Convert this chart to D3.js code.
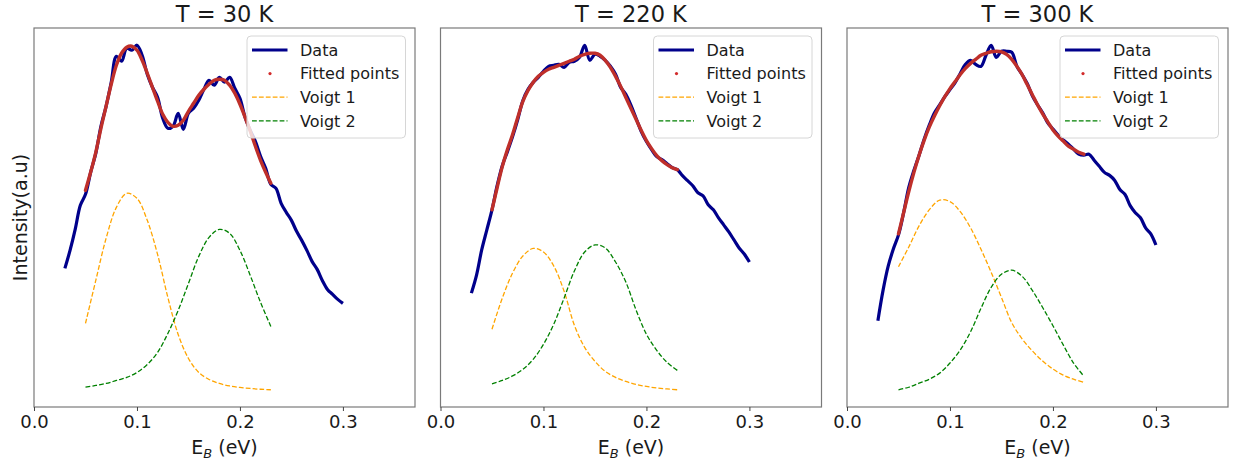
<!DOCTYPE html>
<html>
<head>
<meta charset="utf-8">
<script src="https://cdn.jsdelivr.net/npm/d3@7"></script>
<style>
  body { margin: 0; background: #fff; }
  text { font-family: "DejaVu Sans", sans-serif; fill: #1a1a1a; }
</style>
</head>
<body>
<svg id="chart" width="1233" height="463"></svg>
<script>
// energies (eV)
const dataE = [0.030,0.035,0.040,0.045,0.050,0.055,0.060,0.065,0.070,0.075,0.080,0.085,0.090,0.095,0.100,0.105,0.110,0.115,0.120,0.125,0.130,0.135,0.140,0.145,0.150,0.155,0.160,0.165,0.170,0.175,0.180,0.185,0.190,0.195,0.200,0.205,0.210,0.215,0.220,0.225,0.230,0.235,0.240,0.245,0.250,0.255,0.260,0.265,0.270,0.275,0.280,0.285,0.290,0.295,0.300]
const fitE = [0.050,0.055,0.060,0.065,0.070,0.075,0.080,0.085,0.090,0.095,0.100,0.105,0.110,0.115,0.120,0.125,0.130,0.135,0.140,0.145,0.150,0.155,0.160,0.165,0.170,0.175,0.180,0.185,0.190,0.195,0.200,0.205,0.210,0.215,0.220,0.225,0.230]
const voigtE = [0.05,0.06,0.07,0.08,0.09,0.10,0.11,0.12,0.13,0.14,0.15,0.16,0.17,0.18,0.19,0.20,0.21,0.22,0.23]

const titles = ["T = 30 K", "T = 220 K", "T = 300 K"]
const xTicks = [0.0, 0.1, 0.2, 0.3]
const legendLabels = ["Data", "Fitted points", "Voigt 1", "Voigt 2"]

// T = 30 K
const data30 = [139,157,178,202,213,235,254,281,301,325,351,346,359,357,362,352,333,320,310,289,279,281,294,278,294,299,307,318,327,322,330,325,330,319,309,290,277,266,251,239,223,219,204,195,187,176,167,157,146,138,127,118,113,108,104]
const fit30 = [217,235,255,279,301,323,342,354,360,361,357,347,334,320,306,293,285,281,282,287,296,304,312,318,323,327,328,327,322,314,303,290,276,261,247,235,224]
const voigt1_30 = [84,127,169,200,214,209,187,153,110,73,49,35,28,24,21.5,20,19,18.2,17.7]
const voigt2_30 = [20.3,22,24,27,30,35,43,55,74,97,124,151,170,178,174,157,132,105,81]

// T = 220 K
const data220 = [114,132,157,177,197,221,241,255,270,287,306,317,324,329,335,340,341,342,339,344,345,349,361,346,352,350,346,340,332,319,312,301,288,275,265,257,250,247,243,239,237,231,226,221,214,211,202,197,189,182,175,167,159,153,145]
const fit220 = [197,219,240,257,272,289,305,316,324,330,334,337,339,341,343,345,347,350,352,353,353,351,346,339,330,320,309,298,287,276,266,258,251,246,242,239,237]
const voigt1_220 = [78,109,134,151,158.5,155,141,116,82,60,46,36,30,26,23,21,19.5,18.5,17.7]
const voigt2_220 = [23.5,27,31.5,38,48,63,83,109,136,155,162,159,145,125,97,73,57,45,37]

// T = 300 K
const data300 = [87,117,141,158,172,194,219,236,251,267,281,293,301,309,316,323,332,341,345,341,339,350,360,348,354,354,353,339,331,322,310,301,293,283,277,271,266,262,257,252,251,252,246,240,234,231,226,217,212,201,194,189,179,173,162]
const fit300 = [173,194,215,234,251,266,279,290,300,309,317,324,331,337,342,346,350,352,353.5,354,353.5,351,346,339,331,321,311,301,292,284,276,270,265,260,257,254,252]
const voigt1_300 = [140.5,160,181,197,206.5,205,195,179,158,135,110,85,69,57,47,39,33,29,26]
const voigt2_300 = [18.5,21,25,29,35,45,58,76,99,120,133,137,131,117,100,82,63,45,32]

const panels = [
  {title: titles[0], data: data30, fit: fit30, v1: voigt1_30, v2: voigt2_30},
  {title: titles[1], data: data220, fit: fit220, v1: voigt1_220, v2: voigt2_220},
  {title: titles[2], data: data300, fit: fit300, v1: voigt1_300, v2: voigt2_300}
]

const PANEL_WIDTH = 381
const PANEL_HEIGHT = 379
const PANEL_LEFTS = [34, 440.5, 847]
const TOP = 28

const COLORS = {data: "#00008b", fit: "#bf2f2a", v1: "orange", v2: "green"}

let svg = d3.select("#chart")

panels.forEach((p, i) => {
  let g = svg.append("g").attr("transform", `translate(${PANEL_LEFTS[i]}, ${TOP})`)

  let xScale = d3.scaleLinear().domain([0, 0.37]).range([0, PANEL_WIDTH])

  // matplotlib style autoscale: extent + 5% margin
  let all = p.data.concat(p.fit, p.v1, p.v2)
  let [lo, hi] = d3.extent(all)
  let pad = (hi - lo) * 0.05
  let yScale = d3.scaleLinear().domain([lo - pad, hi + pad]).range([PANEL_HEIGHT, 0])

  let line = d3.line()
    .x(d => xScale(d[0]))
    .y(d => yScale(d[1]))
    .curve(d3.curveCatmullRom.alpha(0.5))

  g.append("path")
    .datum(dataE.map((e, k) => [e, p.data[k]]))
    .attr("d", line)
    .attr("fill", "none")
    .attr("stroke", COLORS.data)
    .attr("stroke-width", 3.2)
    .attr("stroke-linejoin", "round")

  g.append("path")
    .datum(fitE.map((e, k) => [e, p.fit[k]]))
    .attr("d", line)
    .attr("fill", "none")
    .attr("stroke", COLORS.fit)
    .attr("stroke-width", 3.4)
    .attr("stroke-linecap", "round")

  g.append("path")
    .datum(voigtE.map((e, k) => [e, p.v1[k]]))
    .attr("d", line)
    .attr("fill", "none")
    .attr("stroke", COLORS.v1)
    .attr("stroke-width", 1.3)
    .attr("stroke-dasharray", "4.8,2.1")

  g.append("path")
    .datum(voigtE.map((e, k) => [e, p.v2[k]]))
    .attr("d", line)
    .attr("fill", "none")
    .attr("stroke", COLORS.v2)
    .attr("stroke-width", 1.3)
    .attr("stroke-dasharray", "4.8,2.1")

  // frame
  g.append("rect")
    .attr("width", PANEL_WIDTH)
    .attr("height", PANEL_HEIGHT)
    .attr("fill", "none")
    .attr("stroke", "#7a7a7a")
    .attr("stroke-width", 1.2)

  // x axis
  let xAxis = g.append("g")
    .attr("transform", `translate(0, ${PANEL_HEIGHT})`)
    .call(d3.axisBottom(xScale).tickValues(xTicks).tickFormat(d3.format(".1f")).tickSize(4).tickPadding(4))
  xAxis.select(".domain").remove()
  xAxis.selectAll("line").attr("stroke", "#444")
  xAxis.selectAll("text")
    .attr("font-family", "DejaVu Sans")
    .attr("font-size", 18)
    .attr("fill", "#1a1a1a")

  // x label E_B (eV)
  let xl = g.append("text")
    .attr("x", PANEL_WIDTH / 2)
    .attr("y", 426)
    .attr("text-anchor", "middle")
    .attr("font-size", 19)
  xl.append("tspan").text("E")
  xl.append("tspan").attr("font-size", 13).attr("font-style", "italic").attr("dy", 4).text("B")
  xl.append("tspan").attr("dy", -4).text(" (eV)")

  // title
  g.append("text")
    .attr("x", PANEL_WIDTH / 2)
    .attr("y", -6)
    .attr("text-anchor", "middle")
    .attr("font-size", 22.5)
    .text(p.title)

  // legend
  let lg = g.append("g").attr("transform", `translate(${PANEL_WIDTH - 168}, 8)`)
  lg.append("rect")
    .attr("width", 158.5)
    .attr("height", 102)
    .attr("rx", 4)
    .attr("fill", "white")
    .attr("fill-opacity", 0.8)
    .attr("stroke", "#d6d6d6")
    .attr("stroke-width", 1)

  legendLabels.forEach((lab, k) => {
    let cy = 14 + k * 23.6
    if (k === 0) {
      lg.append("line").attr("x1", 5).attr("x2", 40.5).attr("y1", cy).attr("y2", cy)
        .attr("stroke", COLORS.data).attr("stroke-width", 3)
    } else if (k === 1) {
      lg.append("circle").attr("cx", 23).attr("cy", cy).attr("r", 1.6).attr("fill", "#d22b2b")
    } else {
      lg.append("line").attr("x1", 5).attr("x2", 40.5).attr("y1", cy).attr("y2", cy)
        .attr("stroke", k === 2 ? COLORS.v1 : COLORS.v2)
        .attr("stroke-width", 1.3)
        .attr("stroke-dasharray", "4.8,2.1")
    }
    lg.append("text")
      .attr("x", 53)
      .attr("y", cy)
      .attr("dy", "0.36em")
      .attr("font-size", 16)
      .text(lab)
  })
})

// shared y label
svg.append("text")
  .attr("transform", `translate(27, ${TOP + PANEL_HEIGHT / 2}) rotate(-90)`)
  .attr("text-anchor", "middle")
  .attr("font-size", 19)
  .text("Intensity(a.u)")
</script>
</body>
</html>
